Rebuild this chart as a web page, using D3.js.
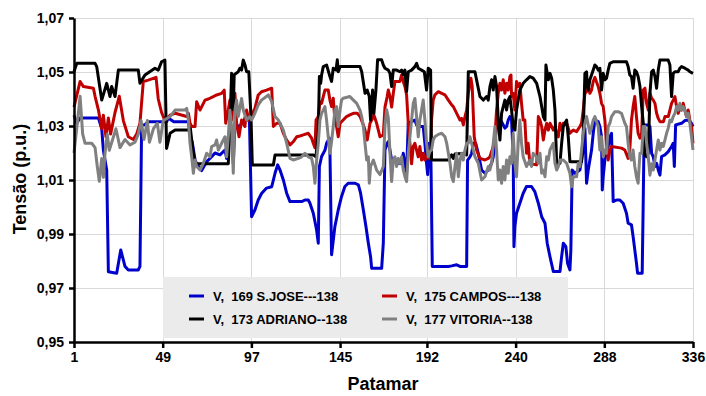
<!DOCTYPE html>
<html>
<head>
<meta charset="utf-8">
<script src="https://cdn.jsdelivr.net/npm/d3@7"></script>
<style>
  html, body { margin: 0; padding: 0; background: #fff; }
  svg { display: block; font-family: "Liberation Sans", Arial, sans-serif; }
</style>
</head>
<body>
<svg id="chart" width="706" height="396"></svg>
<script>
// Voltage profile (p.u.) per load step ("patamar") for four 138 kV buses.
// Each series is a list of [patamar, tensão] vertices.
const sJose = [
  [1,1.034],[2.5,1.031],[4.2,1.033],[14.2,1.033],[16,1.029],[16.9,1.021],[18.7,1.0137],[19.6,0.976],[24.1,0.9755],[26.3,0.9841],[28.6,0.978],[30.4,0.9767],[35.8,0.9767],[36.7,0.978],[37.6,1.0304],[39.4,1.0305],[41.2,1.0316],[51.2,1.0316],[52,1.033],[55,1.0316],
  [55.7,1.0316],[62.9,1.0316],[64,1.026],[65,1.024],[66.5,1.0175],[67.4,1.016],[70.1,1.0135],[72.8,1.0168],[75.5,1.0186],[77.3,1.02],[80,1.0193],[82.7,1.0211],[83.6,1.018],[84.5,1.026],[86.3,1.0298],[87.2,1.016],[88.1,1.0304],[90.8,1.0298],[91.7,1.031],[93.2,1.0322],[94.1,1.0347],[95,1.0322],[95.9,1.0335],[97.1,0.9964],[98.9,0.9989],[100.7,1.0026],[102.5,1.005],[105.2,1.007],[108,1.0075],[109.8,1.0125],[111.2,1.0156],
  [112.5,1.0137],[114.3,1.01],[116.1,1.0051],[117.9,1.002],[124.2,1.002],[126,1.0026],[127.8,1.0026],[128.7,1.0014],[130.5,0.9977],[132.3,0.9915],[133.2,0.9866],[133.8,1.015],[135,1.0187],[136.8,1.021],[137.7,1.0236],[139.2,1.0255],[139.5,1.021],[140.4,0.9823],[142.2,0.9928],[144,0.9989],[145.8,1.0039],[147.6,1.0076],[149.4,1.0088],[153.1,1.0088],[154.9,1.0082],[156.1,1.0051],[157.6,0.9989],[159,0.9928],[160.3,0.9866],[161.5,0.9816],[162.1,0.9773],[167.5,0.9773],[168.4,0.9866],[169.3,1.0211],
  [170.5,1.0236],[171.1,1.0242],[172,1.0211],[172.9,1.0174],[174.7,1.0168],[176.5,1.0162],[178.3,1.016],[179.2,1.0199],[180.1,1.016],[181,1.0125],[181.9,1.031],[183.7,1.0316],[185.5,1.0322],[186.4,1.0304],[187.3,1.0316],[188.2,1.0298],[190,1.0298],[190.9,1.0236],[191.8,1.0162],[192.4,1.012],[193.3,1.0236],[194.2,1.0162],[194.9,0.978],[203.6,0.978],[205.4,0.9782],[208.1,0.9786],[209.9,0.978],[213.5,0.978],[214,1.0174],[215.3,1.0186],[216.2,1.0199],[217.1,1.0236],[218.4,1.0236],[219.8,1.0199],[221.6,1.0137],[223.4,1.0125],[225.2,1.0137],
  [226.1,1.015],[227,1.0162],[227.9,1.0186],[228.8,1.0236],[229.7,1.0298],[230.6,1.0322],[232.4,1.0316],[234.2,1.0292],[235.1,1.0298],[236,1.0322],[236.9,1.0335],[237.8,1.0322],[238.7,1.0186],[239.1,0.9853],[239.6,0.9928],[240.5,0.9977],[242.3,1.0014],[244.1,1.0051],[245.9,1.0076],[248.6,1.0076],[250.4,1.0057],[252.3,1.0014],[254.1,0.9964],[255.9,0.994],[257.1,0.9866],[258.6,0.9816],[260.4,0.9761],[264,0.9761],[264.9,0.9816],[265.8,0.9866],[267.2,0.9853],[268.1,0.9792],[269.4,0.9767],[269.9,0.9841],[270.6,1.0137],[272.1,1.0125],[273.4,1.0131],[274.8,1.0137],[276.6,1.0211],[277.5,1.0292],[278.4,1.0088],[279.3,1.0137],[280.2,1.0174],[281.1,1.0211],[282,1.0273],
  [282.9,1.0322],[284.7,1.0316],[285.6,1.0298],[286.5,1.026],[286.9,1.0063],[287.4,1.0112],[288.3,1.0174],[289.2,1.0211],[290.1,1.0224],[291,1.026],[291.9,1.0273],[292.8,1.002],[294.6,1.0026],[296.4,1.0026],[298.2,1.0014],[300,0.9977],[300.9,0.994],[302.7,0.9934],[303.6,0.989],[304.5,0.9841],[305.4,0.9792],[306,0.9755],[308.5,0.9755],[309,0.9989],[309.6,1.0304],[311.8,1.0304],[312.7,1.0298],[313.6,1.0199],[314.5,1.0186],[315.4,1.015],[316.3,1.0162],[317.2,1.0137],[318.1,1.0118],[319,1.0187],[320.8,1.0193],[322.6,1.0205],[324.4,1.0224],[325.3,1.0236],[325.9,1.015],[326.6,1.0304],[329.8,1.031],[331.6,1.032],[333.4,1.0322],[335.2,1.031],[336,1.0298]
];

const adriano = [
  [1,1.0501],[2.5,1.0532],[12.4,1.0532],[13.3,1.052],[16,1.0396],[18.7,1.0458],[20.5,1.0409],[21.4,1.0446],[23.2,1.0409],[25,1.0507],[35.8,1.0507],[36.7,1.0458],[39.4,1.0489],[44.8,1.0514],[46.6,1.0507],[48.4,1.0538],[50.2,1.0544],[51.1,1.0217],[53,1.0273],
  [55.7,1.0285],[62.9,1.0285],[64,1.029],[65,1.023],[66.5,1.016],[84.5,1.016],[85.4,1.03],[86.3,1.0495],[87.2,1.036],[87.7,1.049],[89.9,1.0501],[90.8,1.0514],[91.7,1.0507],[92.6,1.0544],[93.5,1.0527],[94.4,1.0501],[95.6,1.0501],[96.8,1.033],[97.5,1.0156],[108.9,1.0156],[109.8,1.0193],
  [112.5,1.0193],[130.5,1.0193],[131.9,1.0186],[133.2,1.0273],[133.8,1.0483],[134.5,1.0458],[135,1.0489],[135.9,1.052],[137.7,1.0526],[139.5,1.0483],[140.4,1.0465],[141.3,1.0514],[142.8,1.0507],[143.5,1.0545],[144,1.0501],[145,1.052],[146.7,1.052],[155.8,1.052],[156.7,1.0501],[158.5,1.0421],[159.7,1.0433],[160.8,1.0409],[161.5,1.0322],[162.6,1.0433],[163.3,1.0347],[164.4,1.0433],[165.3,1.0545],[167.5,1.0545],[168.4,1.0526],
  [169.3,1.0514],[171.1,1.0507],[172,1.0495],[172.9,1.0446],[173.8,1.0507],[175.6,1.0507],[177.4,1.0501],[178.3,1.0507],[179.2,1.049],[180.1,1.0507],[181,1.0428],[181.9,1.0501],[183.7,1.0507],[185.5,1.052],[186.4,1.0532],[187.3,1.0514],[189.1,1.0507],[190.6,1.0501],[191.8,1.0433],[192.7,1.0514],[194,1.0507],[194.5,1.0174],[203.6,1.0174],[205.4,1.0193],[206.3,1.018],[207.2,1.0196],[212.6,1.0199],[213.5,1.0193],[214.4,1.0501],[218,1.0501],[218.9,1.047],[220.7,1.0409],[222.5,1.0396],[224.3,1.0409],[225.2,1.0396],
  [226.1,1.0446],[227,1.0471],[227.9,1.0433],[228.8,1.0483],[229.7,1.0446],[230.6,1.0322],[231.5,1.0248],[232.4,1.0347],[233.3,1.0372],[234.2,1.0396],[235.1,1.0359],[236,1.0396],[236.9,1.0409],[237.8,1.0359],[238.7,1.0298],[239.6,1.0285],[240.5,1.0359],[242.3,1.0433],[244.1,1.0458],[245.9,1.0471],[247.7,1.0483],[249.5,1.0477],[251.4,1.0458],[253.2,1.0409],[255,1.0335],[255.9,1.0322],[256.4,1.0526],[257.7,1.0471],[258.6,1.0495],[259.5,1.0477],[260.4,1.0433],[261.3,1.0359],[262.2,1.0162],[264,1.0162],[264.9,1.0236],[265.8,1.0298],[266.7,1.031],[267.6,1.0322],[268.5,1.026],[269.4,1.0168],[275.7,1.0168],[276.6,1.0273],[277.5,1.0495],[278.4,1.0501],[278.8,1.0446],[279.3,1.0433],[280.2,1.0471],[282,1.0507],
  [282.9,1.0526],[283.8,1.052],[284.7,1.0507],[285.6,1.0514],[286.5,1.0433],[287.4,1.0495],[288.3,1.0471],[289.2,1.0477],[290.1,1.0507],[291,1.0532],[292.8,1.0538],[300,1.0538],[300.9,1.052],[301.8,1.0489],[302.7,1.0483],[303.6,1.044],[304.5,1.0507],[305.4,1.0501],[306.3,1.0483],[307.3,1.0446],[308.2,1.0372],[309.1,1.031],[310,1.0193],[310.9,1.0186],[311.8,1.0199],[312.7,1.0421],[313.6,1.0501],[314.5,1.0507],[315.4,1.0483],[316.3,1.044],[317.2,1.0507],[318.1,1.0544],[322.6,1.0544],[323.5,1.0526],[324.4,1.0409],[325.3,1.0495],[326.2,1.0501],[328,1.0501],[328.9,1.0514],[329.8,1.052],[331.6,1.0514],[333.4,1.0507],[334.3,1.0501],[336,1.0495]
];

const campos = [
  [1,1.037],[4.3,1.0465],[6.1,1.0446],[11.5,1.044],[12.4,1.041],[14.2,1.036],[16,1.029],[16.9,1.034],[18.3,1.026],[19.6,1.033],[20.8,1.027],[23.2,1.035],[25.5,1.041],[27.7,1.032],[30.4,1.026],[33.1,1.025],[34.9,1.027],[36.7,1.031],[38.5,1.0465],[41.2,1.047],[45.4,1.048],[46.6,1.04],[48.4,1.035],[50.2,1.032],[53,1.034],
  [55.7,1.0347],[62,1.0335],[62.9,1.0347],[63.8,1.031],[64.7,1.0298],[66.5,1.0298],[67.4,1.039],[69.2,1.0359],[71.9,1.0396],[73.7,1.04],[76.4,1.0409],[78.2,1.0415],[80.9,1.0421],[82.3,1.0433],[83.1,1.031],[84.5,1.0359],[85.4,1.0396],[86.3,1.0322],[88.1,1.0421],[89,1.031],[90.3,1.026],[91.7,1.0322],[93.5,1.0298],[94.4,1.0359],[95.7,1.0322],[97.1,1.0341],[98.9,1.0365],[100.7,1.0415],[102.5,1.0427],[105.2,1.0433],[108,1.044],[108.9,1.0298],[110.7,1.031],
  [112.5,1.031],[114.3,1.0273],[116.1,1.0248],[117.9,1.023],[119.7,1.0242],[121.5,1.026],[123.3,1.0263],[125.1,1.0267],[127.8,1.0273],[129.6,1.0255],[130.5,1.0236],[131.4,1.022],[132,1.0322],[133.2,1.0335],[134.1,1.039],[135,1.0384],[135.9,1.0409],[136.8,1.0433],[138.6,1.0433],[139.5,1.0396],[140.4,1.0372],[141.3,1.0403],[142.2,1.0322],[143.1,1.0298],[144,1.026],[145,1.031],[146.7,1.0322],[148.5,1.0335],[150.3,1.0341],[152.2,1.0347],[154.3,1.0347],[155.8,1.0335],[157.6,1.0304],[158.5,1.0285],[159.7,1.0248],[161.2,1.031],[162.1,1.0322],[163.3,1.0341],[164.8,1.031],[166.6,1.026],[168.4,1.0267],
  [169.3,1.037],[170.5,1.0409],[171.1,1.0433],[172,1.041],[172.9,1.037],[173.8,1.0421],[174.7,1.0465],[177.4,1.0465],[178.3,1.0489],[179.2,1.0465],[180.1,1.0446],[181,1.0415],[181.9,1.031],[182.8,1.0236],[183.7,1.016],[184.6,1.0224],[185.5,1.0236],[186.4,1.0211],[187.3,1.0186],[188.2,1.0224],[189.1,1.0174],[190,1.0199],[190.9,1.0174],[191.8,1.0186],[193.6,1.018],[194.5,1.0322],[195.4,1.0396],[196.3,1.0415],[198.2,1.0427],[200,1.0421],[201.8,1.0415],[203.6,1.0396],[205.4,1.0378],[206.3,1.0372],[208.1,1.0347],[209.9,1.0322],[210.8,1.0328],[211.7,1.0304],[212.6,1.0335],[213.5,1.0359],[214.4,1.0421],[215.8,1.0477],[216.5,1.0446],[217.6,1.026],[218.9,1.021],[220.7,1.018],[223.4,1.0174],[225.2,1.018],
  [226.1,1.0186],[227.9,1.0224],[228.8,1.026],[229.7,1.0359],[230.6,1.0421],[231.5,1.0458],[232.4,1.0433],[233.3,1.0471],[234.2,1.0421],[235.1,1.0458],[236,1.0433],[236.9,1.0483],[237.5,1.0489],[237.8,1.0409],[238.7,1.0421],[239.6,1.0359],[240.5,1.0465],[241.4,1.0446],[242.3,1.0458],[243.2,1.0384],[244.1,1.0322],[245,1.0322],[245.9,1.0199],[246.8,1.0236],[247.7,1.016],[251.4,1.0156],[252.3,1.0335],[253.2,1.0322],[254.1,1.0298],[255,1.0248],[255.9,1.0285],[256.8,1.031],[257.7,1.0285],[258.6,1.031],[259.5,1.0298],[260.4,1.0285],[261.3,1.0298],[262.2,1.0273],[263.1,1.026],[264,1.031],[264.9,1.0285],[265.8,1.031],[267.6,1.031],[269.4,1.0273],[271.2,1.0285],[273,1.0279],[274.8,1.0298],[275.7,1.031],[276.6,1.0359],[277.5,1.0421],[278.4,1.0427],[279.3,1.0446],[280.2,1.0421],[281.1,1.0433],[282,1.0465],
  [282.9,1.048],[284.7,1.0446],[285.6,1.0421],[286.5,1.0384],[287.4,1.0372],[288.3,1.0322],[289.2,1.0236],[290.1,1.0174],[291,1.0211],[291.9,1.0224],[297.3,1.0218],[299.1,1.0211],[300.9,1.018],[301.8,1.0211],[302.7,1.0322],[303.6,1.0372],[304.5,1.0409],[305.4,1.0335],[306.3,1.0273],[307.3,1.0255],[308.2,1.0273],[309.1,1.0433],[310,1.044],[310.9,1.0384],[311.8,1.0359],[312.7,1.0421],[313.6,1.0403],[314.5,1.0396],[315.4,1.0384],[316.3,1.0347],[317.2,1.0328],[318.1,1.0316],[320,1.0316],[320.8,1.0335],[322.6,1.0335],[323.5,1.0359],[324.4,1.0384],[325.3,1.0396],[326.2,1.0409],[327.1,1.0372],[328,1.0347],[328.9,1.0372],[329.8,1.0359],[330.7,1.0384],[331.6,1.0359],[332.5,1.0335],[333.4,1.0359],[334.3,1.0322],[335.2,1.0298],[336,1.0236]
];

const vitoria = [
  [1,1.02],[3.4,1.035],[4.3,1.041],[5.7,1.027],[7,1.0236],[10.6,1.0236],[12.4,1.022],[13.6,1.015],[14.7,1.0095],[16,1.018],[16.9,1.011],[17.8,1.02],[19,1.027],[20.1,1.021],[21.9,1.025],[23.7,1.029],[25.9,1.022],[28.6,1.025],[31.3,1.023],[34,1.024],[35.8,1.027],[37.3,1.032],[38.9,1.025],[40.7,1.032],[41.8,1.024],[44,1.029],[46.1,1.031],[47.5,1.024],[49.3,1.032],[53,1.0335],
  [55.7,1.0359],[61,1.0359],[62,1.0365],[62.9,1.0322],[63.8,1.0236],[64.7,1.0186],[65.6,1.0125],[66.5,1.0174],[67.4,1.015],[69.2,1.0137],[71,1.0162],[72.8,1.0199],[74.6,1.0186],[75.5,1.0224],[77.3,1.023],[78.2,1.0248],[79.1,1.0211],[80.9,1.0236],[82.7,1.026],[83.6,1.0186],[84.5,1.026],[85.4,1.0359],[86.3,1.0298],[87.2,1.0125],[88.1,1.0359],[89,1.0396],[89.9,1.0335],[91.7,1.0402],[92.6,1.0359],[94.4,1.0322],[96.2,1.0335],[97.1,1.0322],[98.9,1.0347],[100.7,1.0378],[102.5,1.0396],[106.2,1.0415],[108,1.039],[109.8,1.0335],[111.6,1.0322],
  [112.5,1.031],[114.3,1.0285],[116.1,1.0236],[117.9,1.018],[119.7,1.0174],[122.4,1.018],[124.2,1.0186],[126,1.0199],[127.8,1.0186],[129.6,1.018],[130.5,1.015],[131.4,1.0088],[132.3,1.0174],[133.2,1.0236],[134.1,1.0322],[135,1.0347],[135.9,1.0359],[136.8,1.0372],[137.7,1.0322],[138.6,1.026],[139.5,1.0199],[140.4,1.0242],[141.3,1.0298],[142.2,1.0359],[143.1,1.0372],[144,1.0298],[145,1.0359],[145.8,1.0396],[146.7,1.0403],[150.3,1.0409],[152.2,1.0396],[154,1.0384],[155.8,1.0359],[156.7,1.0335],[157.6,1.0298],[158.5,1.0236],[159.4,1.0174],[160.3,1.0186],[160.8,1.0088],[161.5,1.015],[163,1.0174],[164.8,1.0137],[166.6,1.012],[168.4,1.015],
  [169.3,1.03],[170.2,1.036],[171.1,1.033],[172,1.02],[172.9,1.0094],[173.8,1.0174],[174.7,1.0186],[175.6,1.015],[176.5,1.018],[177.4,1.0162],[178.3,1.0186],[179.2,1.0137],[180.1,1.0112],[181,1.0094],[181.9,1.0199],[182.8,1.026],[183.7,1.0322],[184.6,1.0384],[185.5,1.0402],[186.4,1.0335],[187.3,1.026],[188.2,1.0322],[189.1,1.0359],[190,1.0396],[190.9,1.0322],[191.8,1.0236],[192.7,1.0186],[193.6,1.0205],[194.5,1.0211],[195.4,1.0248],[196.3,1.026],[198.2,1.0269],[200,1.0273],[201.8,1.026],[202.7,1.0236],[203.6,1.0199],[204.5,1.0162],[205.4,1.0112],[206.3,1.0094],[207.2,1.015],[208.1,1.0199],[209,1.0112],[209.9,1.0174],[210.8,1.0199],[211.7,1.0174],[212.6,1.0211],[213.5,1.0236],[214.4,1.0236],[215.3,1.026],[216.2,1.0236],[217.1,1.0211],[218,1.0186],[219.8,1.0162],[221.6,1.01],[223.4,1.0112],[225.2,1.015],
  [226.1,1.0137],[227,1.0162],[227.9,1.0236],[228.8,1.0298],[229.7,1.0211],[230.6,1.01],[231.5,1.0137],[232.4,1.0088],[233.3,1.015],[234.2,1.01],[235.1,1.0174],[236,1.0125],[236.9,1.0186],[237.8,1.0162],[238.7,1.0273],[239.6,1.0162],[240.5,1.0112],[241.4,1.0236],[242.3,1.0322],[243.2,1.0236],[244.1,1.0186],[245.9,1.015],[247.7,1.0174],[248.6,1.015],[249.5,1.0199],[251.4,1.0186],[252.3,1.0162],[253.2,1.0199],[254.1,1.0125],[255,1.0137],[255.9,1.0112],[256.8,1.0186],[257.7,1.0174],[258.6,1.0211],[260.4,1.0236],[261.3,1.0162],[262.2,1.0137],[263.1,1.015],[264,1.0174],[265.8,1.0174],[267.6,1.0162],[269.4,1.0125],[270.3,1.0075],[271.2,1.0112],[273,1.0112],[273.9,1.0162],[274.8,1.015],[275.7,1.0211],[276.6,1.0273],[277.5,1.031],[278.4,1.0335],[280.2,1.0273],[282,1.0322],
  [282.9,1.0335],[284.7,1.0298],[285.6,1.0211],[286.5,1.026],[287.4,1.0186],[288.3,1.0211],[289.2,1.0199],[290.1,1.0298],[291,1.031],[291.9,1.0335],[293.7,1.0353],[295.5,1.0353],[297.3,1.0347],[299.1,1.031],[300,1.0298],[300.9,1.0236],[301.8,1.0186],[302.7,1.0174],[303.6,1.0211],[304.5,1.015],[305.4,1.0112],[306.3,1.0088],[307.3,1.0199],[308.2,1.0199],[309.1,1.0298],[310,1.0298],[310.9,1.0236],[311.8,1.0186],[312.7,1.0118],[313.6,1.016],[314.5,1.0137],[315.4,1.0174],[316.3,1.0211],[317.2,1.0248],[318.1,1.0211],[319,1.0236],[319.9,1.0224],[320.8,1.0248],[321.7,1.0273],[322.6,1.0292],[323.5,1.0322],[324.4,1.0316],[325.3,1.0335],[326.2,1.0347],[327.1,1.0372],[328,1.0359],[328.9,1.0384],[329.8,1.0359],[330.7,1.0372],[331.6,1.0359],[332.5,1.0335],[333.4,1.0347],[334.3,1.031],[335.2,1.026],[336,1.0211]
];

const xTicks = [1, 49, 97, 145, 192, 240, 288, 336];
const yTicks = [0.95, 0.97, 0.99, 1.01, 1.03, 1.05, 1.07];

const seriesNames = ["V,  169 S.JOSE---138", "V,  175 CAMPOS---138", "V,  173 ADRIANO--138", "V,  177 VITORIA--138"];
const seriesColors = ["#0000cc", "#c00000", "#000000", "#808080"];
const seriesData = [sJose, campos, adriano, vitoria];

const svg = d3.select("#chart");
const margin = { top: 18, right: 13, bottom: 54, left: 74 };
const W = 706, H = 396;

const x = d3.scaleLinear().domain([1, 336]).range([margin.left, W - margin.right]);
const y = d3.scaleLinear().domain([0.95, 1.07]).range([H - margin.bottom, margin.top]);
const fmt = v => d3.format(".2f")(v).replace(".", ",");

// gridlines
const grid = svg.append("g").attr("stroke", "#d9d9d9").attr("stroke-width", 1);
grid.selectAll("line.h").data(yTicks).join("line")
  .attr("x1", x(1)).attr("x2", x(336))
  .attr("y1", d => Math.round(y(d)) + 0.5).attr("y2", d => Math.round(y(d)) + 0.5);
grid.selectAll("line.v").data(xTicks.slice(1)).join("line")
  .attr("x1", d => Math.round(x(d)) + 0.5).attr("x2", d => Math.round(x(d)) + 0.5)
  .attr("y1", y(1.07)).attr("y2", y(0.95));

// legend panel
const legend = svg.append("g");
legend.append("rect").attr("x", 163).attr("y", 277).attr("width", 405).attr("height", 61).attr("fill", "#ebebeb");
const legPos = [[189, 296], [382, 296], [189, 319], [382, 319]];
seriesNames.forEach((name, i) => {
  const [lx, ly] = legPos[i];
  legend.append("line").attr("x1", lx).attr("x2", lx + 15).attr("y1", ly).attr("y2", ly)
    .attr("stroke", seriesColors[i]).attr("stroke-width", 3);
  legend.append("text").attr("x", lx + 24).attr("y", ly).attr("dy", "0.35em")
    .attr("font-size", 13).attr("font-weight", "bold").style("white-space", "pre")
    .attr("fill", "#000").text(name);
});

// series lines
const line = d3.line().x(d => x(d[0])).y(d => y(d[1]));
seriesData.forEach((data, i) => {
  svg.append("path").datum(data).attr("d", line)
    .attr("fill", "none").attr("stroke", seriesColors[i])
    .attr("stroke-width", 3).attr("stroke-linejoin", "round");
});

// axes
const yAxis = d3.axisLeft(y).tickValues(yTicks).tickFormat(fmt).tickSize(5).tickSizeOuter(0);
const gy = svg.append("g").attr("transform", `translate(${x(1)},0)`).call(yAxis);
const xAxis = d3.axisBottom(x).tickValues(xTicks).tickSize(6).tickSizeOuter(0);
const gx = svg.append("g").attr("transform", `translate(0,${y(0.95)})`).call(xAxis);
[gy, gx].forEach(g => {
  g.select(".domain").attr("stroke", "#000").attr("stroke-width", 2.5);
  g.selectAll(".tick line").attr("stroke", "#000").attr("stroke-width", 2.5);
  g.selectAll(".tick text").attr("fill", "#000").attr("font-size", 14).attr("font-weight", "bold")
    .attr("font-family", "'Liberation Sans', Arial, sans-serif");
});
gy.selectAll(".tick text").attr("x", -10);
gx.selectAll(".tick text").attr("y", 10);

// axis titles
svg.append("text").attr("transform", "translate(26,179) rotate(-90)")
  .attr("text-anchor", "middle").attr("font-size", 18).attr("font-weight", "bold")
  .text("Tensão (p.u.)");
svg.append("text").attr("x", 383).attr("y", 390)
  .attr("text-anchor", "middle").attr("font-size", 18).attr("font-weight", "bold")
  .text("Patamar");
</script>
</body>
</html>
